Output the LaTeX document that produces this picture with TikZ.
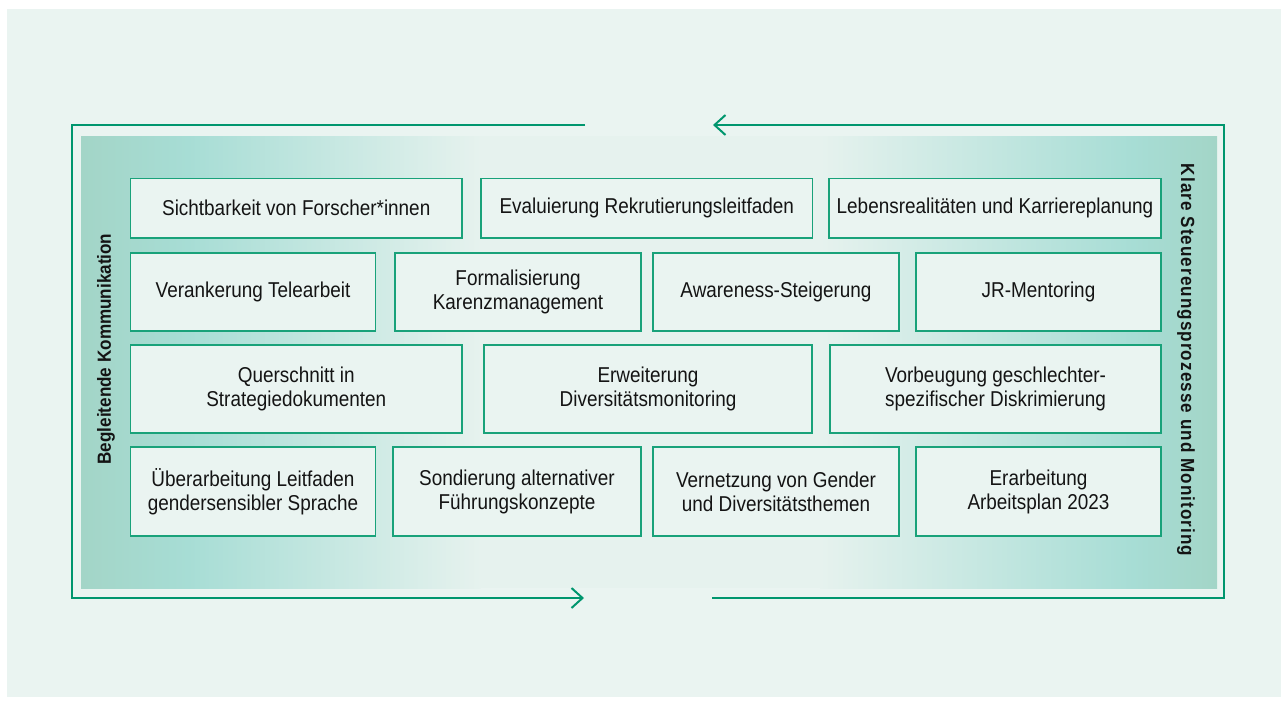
\documentclass[tikz,border=0pt]{standalone}
\usepackage{fontspec}
\setmainfont{Liberation Sans}[FakeStretch=0.88]
\newfontfamily\seitenfont{Liberation Sans}[FakeStretch=0.9]
\newfontfamily\weitfont{Liberation Sans}[FakeStretch=0.9, LetterSpace=5.5]
\usetikzlibrary{arrows.meta}
\definecolor{rahmengruen}{RGB}{0,150,110}
\definecolor{boxgruen}{RGB}{25,162,122}
\definecolor{hintergrund}{RGB}{234,244,241}
\definecolor{randmint}{RGB}{163,213,199}
\definecolor{tuerkis}{RGB}{167,221,213}
\definecolor{mitte}{RGB}{230,242,238}
\definecolor{schrift}{RGB}{20,20,20}

\begin{document}
\begin{tikzpicture}[x=1pt,y=1pt]
	\tikzstyle{every node}+=[inner sep=0pt]
	\tikzstyle{massnahme}=[draw=boxgruen, fill=hintergrund, line width=1.5pt, align=center, text=schrift, font=\fontsize{21.5}{24}\selectfont]
	\tikzstyle{seite}=[font=\seitenfont\bfseries\fontsize{19}{21}\selectfont, text=schrift]
	\useasboundingbox (0,0) rectangle (1288,-705);
	\fill [hintergrund] (7,-9) rectangle (1281,-697);
	% farbverlauf
	\shade [left color=randmint, right color=tuerkis] (81,-136) rectangle (188.5,-588);
	\shade [left color=tuerkis, right color=mitte] (188,-136) rectangle (480.5,-588);
	\fill [mitte] (480,-136) rectangle (820.5,-588);
	\shade [left color=mitte, right color=tuerkis] (820,-136) rectangle (1132.5,-588);
	\shade [left color=tuerkis, right color=randmint] (1132,-136) rectangle (1217,-588);
	% rahmen
	\coordinate (obenL) at (585,-125);
	\coordinate (eckeNW) at (72,-125);
	\coordinate (eckeSW) at (72,-598);
	\coordinate (untenL) at (584,-598);
	\coordinate (untenR) at (712,-598);
	\coordinate (eckeSO) at (1224,-598);
	\coordinate (eckeNO) at (1224,-125);
	\coordinate (obenR) at (713,-125);
	\draw [rahmengruen, line width=2pt, -{Straight Barb[length=11pt,width=20pt]}] (obenL) -- (eckeNW) -- (eckeSW) -- (untenL);
	\draw [rahmengruen, line width=2pt, -{Straight Barb[length=11pt,width=20pt]}] (untenR) -- (eckeSO) -- (eckeNO) -- (obenR);
	% seitentexte
	\node [seite, rotate=90] (kommunikation) at (106,-349) {Begleitende Kommunikation};
	\node [seite, rotate=-90] (steuerung) at (1186,-360) {\weitfont Klare Steuereungsprozesse und Monitoring};
	% reihe 1
	\node [massnahme, minimum width=331.5, minimum height=59.5] (sichtbarkeit) at (296.25,-208.25) {Sichtbarkeit von Forscher*innen};
	\node [massnahme, minimum width=331.5, minimum height=59.5] (evaluierung) at (646.75,-208.25) {Evaluierung Rekrutierungsleitfaden};
	\node [massnahme, minimum width=332, minimum height=59.5] (lebensrealitaeten) at (995,-208.25) {Lebensrealitäten und Karriereplanung};
	% reihe 2
	\node [massnahme, minimum width=245, minimum height=78] (telearbeit) at (253,-292) {Verankerung Telearbeit};
	\node [massnahme, minimum width=246, minimum height=78] (karenz) at (518,-292) {Formalisierung\\Karenzmanagement};
	\node [massnahme, minimum width=246, minimum height=78] (awareness) at (776,-292) {Awareness-Steigerung};
	\node [massnahme, minimum width=245, minimum height=78] (mentoring) at (1038.5,-292) {JR-Mentoring};
	% reihe 3
	\node [massnahme, minimum width=331.5, minimum height=88] (querschnitt) at (296.25,-389) {Querschnitt in\\Strategiedokumenten};
	\node [massnahme, minimum width=328, minimum height=88] (monitoring) at (648,-389) {Erweiterung\\Diversitätsmonitoring};
	\node [massnahme, minimum width=331, minimum height=88] (vorbeugung) at (995.5,-389) {Vorbeugung geschlechter-\\spezifischer Diskrimierung};
	% reihe 4
	\node [massnahme, minimum width=245, minimum height=89] (leitfaden) at (253,-491.5) {Überarbeitung Leitfaden\\gendersensibler Sprache};
	\node [massnahme, minimum width=248, minimum height=89] (sondierung) at (517,-491.5) {Sondierung alternativer\\Führungskonzepte};
	\node [massnahme, minimum width=246, minimum height=89] (vernetzung) at (776,-491.5) {Vernetzung von Gender\\und Diversitätsthemen};
	\node [massnahme, minimum width=245, minimum height=89] (arbeitsplan) at (1038.5,-491.5) {Erarbeitung\\Arbeitsplan 2023};
\end{tikzpicture}
\end{document}
